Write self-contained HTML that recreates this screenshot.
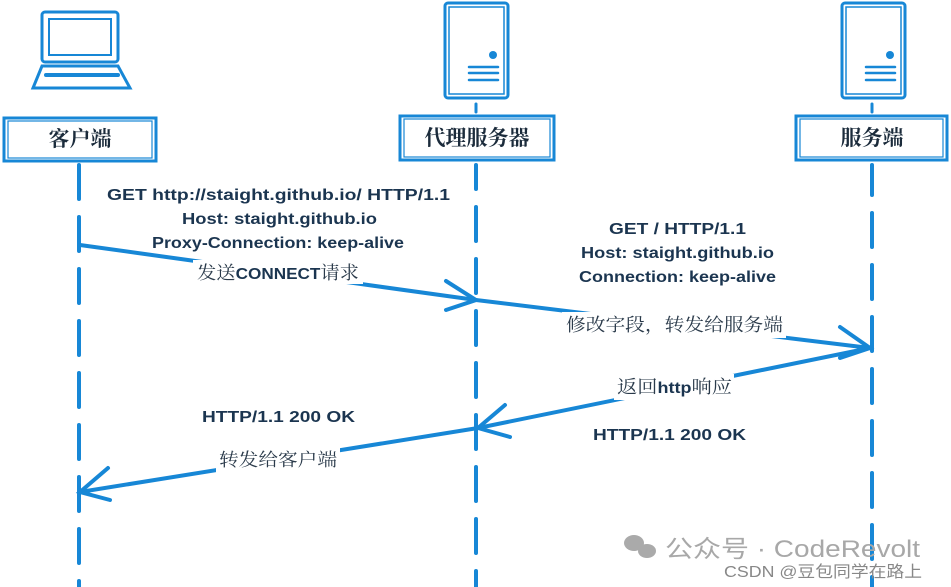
<!DOCTYPE html>
<html><head><meta charset="utf-8"><style>
html,body{margin:0;padding:0;background:#fff;width:951px;height:587px;overflow:hidden}
svg{display:block}
.b{font-family:"Liberation Sans","Noto Sans CJK SC",sans-serif;font-weight:bold;font-size:16px;fill:#1b3550}
.c{font-family:"Liberation Serif","Noto Serif CJK SC",serif;font-size:18px;fill:#2a3a4a}
.h{font-family:"Liberation Serif","Noto Serif CJK SC",serif;font-size:21px;font-weight:bold;fill:#1b2b3b}
</style></head><body>
<svg width="951" height="587" viewBox="0 0 951 587" xmlns="http://www.w3.org/2000/svg">
<g stroke="#1787d6" fill="none" stroke-linecap="round">
<g stroke-width="4" stroke-dasharray="34 18">
<line x1="79" y1="165" x2="79" y2="587"/>
<line x1="476" y1="165" x2="476" y2="587" stroke-dashoffset="10"/>
<line x1="872" y1="165" x2="872" y2="587" stroke-dashoffset="4"/>
</g>
<rect x="42" y="12" width="76" height="50" rx="3" stroke-width="3"/>
<rect x="49" y="19" width="62" height="36" stroke-width="2"/>
<path d="M42 66 L118 66 L130 88 L33 88 Z" stroke-width="3"/>
<line x1="46" y1="75" x2="118" y2="75" stroke-width="4"/>
<rect x="445" y="3" width="63" height="95" rx="3" stroke-width="3"/>
<rect x="449" y="7" width="55" height="87" stroke-width="1.5"/>
<circle cx="493" cy="55" r="4" fill="#1787d6" stroke="none"/>
<g stroke-width="2.5"><line x1="469" y1="67" x2="498" y2="67"/><line x1="469" y1="73" x2="498" y2="73"/><line x1="469" y1="80" x2="498" y2="80"/></g>
<line x1="476" y1="104" x2="476" y2="112" stroke-width="3"/>
<rect x="842" y="3" width="63" height="95" rx="3" stroke-width="3"/>
<rect x="846" y="7" width="55" height="87" stroke-width="1.5"/>
<circle cx="890" cy="55" r="4" fill="#1787d6" stroke="none"/>
<g stroke-width="2.5"><line x1="866" y1="67" x2="895" y2="67"/><line x1="866" y1="73" x2="895" y2="73"/><line x1="866" y1="80" x2="895" y2="80"/></g>
<line x1="872" y1="104" x2="872" y2="112" stroke-width="3"/>
<rect x="4" y="118" width="152" height="43" stroke-width="3"/>
<rect x="8" y="121" width="144" height="37" stroke-width="1.2"/>
<rect x="400" y="116" width="154" height="44" stroke-width="3"/>
<rect x="404" y="119" width="146" height="38" stroke-width="1.2"/>
<rect x="796" y="116" width="151" height="44" stroke-width="3"/>
<rect x="800" y="119" width="143" height="38" stroke-width="1.2"/>
<g stroke-width="4">
<line x1="80" y1="245" x2="476" y2="300"/>
<path d="M446 281 L476 300 L446 310"/>
<line x1="476" y1="300" x2="870" y2="348"/>
<path d="M840 327 L870 348 L840 358"/>
<line x1="870" y1="348" x2="478" y2="428"/>
<path d="M505 405 L478 428 L510 437"/>
<line x1="478" y1="428" x2="80" y2="492"/>
<path d="M108 468 L80 492 L110 500"/>
</g>
</g>
<g fill="#fff">
<rect x="193" y="260" width="170" height="24"/>
<rect x="562" y="312" width="224" height="26"/>
<rect x="614" y="374" width="120" height="26"/>
<rect x="216" y="447" width="124" height="26"/>
</g>
<text class="h" x="80" y="146" text-anchor="middle">客户端</text>
<text class="h" x="477" y="145" text-anchor="middle">代理服务器</text>
<text class="h" x="872" y="145" text-anchor="middle">服务端</text>
<g class="b" lengthAdjust="spacingAndGlyphs">
<text x="107" y="200" textLength="343" lengthAdjust="spacingAndGlyphs">GET http://staight.github.io/ HTTP/1.1</text>
<text x="182" y="224" textLength="195" lengthAdjust="spacingAndGlyphs">Host: staight.github.io</text>
<text x="152" y="248" textLength="252" lengthAdjust="spacingAndGlyphs">Proxy-Connection: keep-alive</text>
<text x="609" y="234" textLength="137" lengthAdjust="spacingAndGlyphs">GET / HTTP/1.1</text>
<text x="581" y="258" textLength="193" lengthAdjust="spacingAndGlyphs">Host: staight.github.io</text>
<text x="579" y="282" textLength="197" lengthAdjust="spacingAndGlyphs">Connection: keep-alive</text>
<text x="202" y="422" textLength="153" lengthAdjust="spacingAndGlyphs">HTTP/1.1 200 OK</text>
<text x="593" y="440" textLength="153" lengthAdjust="spacingAndGlyphs">HTTP/1.1 200 OK</text>
</g>
<text class="c" x="197" y="279" textLength="162" lengthAdjust="spacingAndGlyphs">发送<tspan class="b" style="font-size:16px">CONNECT</tspan>请求</text>
<text class="c" x="566" y="331" textLength="217" lengthAdjust="spacingAndGlyphs">修改字段，转发给服务端</text>
<text class="c" x="617" y="393" textLength="115" lengthAdjust="spacingAndGlyphs">返回<tspan class="b" style="font-size:16px">http</tspan>响应</text>
<text class="c" x="219" y="466" textLength="118" lengthAdjust="spacingAndGlyphs">转发给客户端</text>
<g fill="#aaa">
<ellipse cx="634" cy="543" rx="10" ry="8"/><ellipse cx="647" cy="551" rx="9" ry="7"/>
</g>
<text x="665" y="557" textLength="255" lengthAdjust="spacingAndGlyphs" style="font-family:'Liberation Sans','Noto Sans CJK SC',sans-serif;font-size:24px;fill:#a8a8a8">公众号 · CodeRevolt</text>
<text x="724" y="577" textLength="198" lengthAdjust="spacingAndGlyphs" style="font-family:'Liberation Sans','Noto Sans CJK SC',sans-serif;font-size:16px;fill:#888">CSDN @豆包同学在路上</text>
</svg>
</body></html>
